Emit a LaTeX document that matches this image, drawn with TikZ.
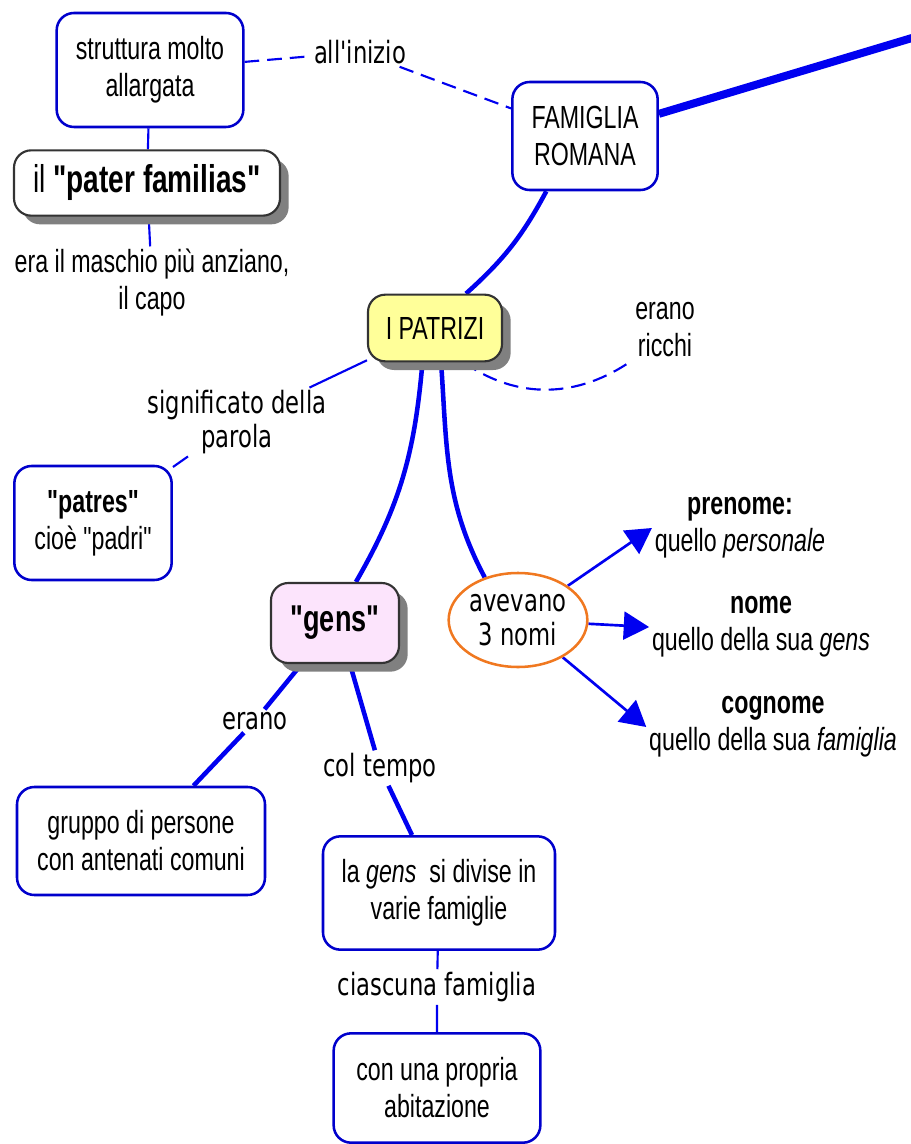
\documentclass[tikz,border=0pt]{standalone}
\usepackage{fontspec}
\setmainfont{Liberation Sans}[FakeStretch=0.725, Ligatures=TeXOff]
\newfontfamily\lblfont{DejaVu Sans}[FakeStretch=0.74, Ligatures=TeXOff]
\usetikzlibrary{shadows,arrows.meta,backgrounds,shapes.geometric}

\definecolor{boxblue}{HTML}{0000CC}
\definecolor{linkblue}{HTML}{0000F0}
\definecolor{patyellow}{HTML}{FFFF99}
\definecolor{genspink}{HTML}{FCE4FC}
\definecolor{ovalorange}{HTML}{F07820}

\begin{document}
\begin{tikzpicture}[x=0.75pt,y=0.75pt,
    concept/.style={draw=boxblue, line width=1.9pt, rounded corners=13pt, fill=white,
        align=center, inner sep=0pt, font=\fontsize{24}{27.75}\selectfont},
    keybox/.style={draw=black!80, line width=1.6pt, rounded corners=13pt,
        align=center, inner sep=0pt, font=\fontsize{24}{27.75}\selectfont,
        drop shadow={shadow xshift=6.5pt, shadow yshift=-6.5pt, fill=black!50, opacity=1}},
    lbl/.style={align=center, inner sep=2pt, font=\fontsize{24}{27.75}\selectfont},
    lbldv/.style={align=center, inner sep=2pt, font=\lblfont\fontsize{23}{25}\selectfont},
    link/.style={linkblue, line width=1.6pt},
    thicklink/.style={linkblue, line width=3.4pt},
    arr/.style={linkblue, line width=2pt, -{Triangle[length=19pt,width=21pt]}},
]
    \useasboundingbox (0,0) rectangle (910,-1144);

    % top: la famiglia romana
    \node[concept, minimum width=140pt, minimum height=85.5pt] (struttura) at (150,-70) {struttura molto\\allargata};
    \node[lbldv] (inizio) at (360,-52) {all'inizio};
    \node[concept, minimum width=109pt, minimum height=81pt] (famiglia) at (585,-136) {FAMIGLIA\\ROMANA};
    \coordinate (offright) at (912,-38);
    \node[keybox, fill=white, minimum width=199.5pt, minimum height=49pt,
        font=\fontsize{29}{30}\selectfont] (pater) at (147,-183) {il \textbf{"pater familias"}};
    \node[lbl] (maschio) at (152,-283) {era il maschio più anziano,\\il capo};

    % i patrizi
    \node[keybox, fill=patyellow, minimum width=100.5pt, minimum height=50pt] (patrizi) at (435,-328) {I PATRIZI};
    \node[lbl] (ricchi) at (665,-330) {erano\\ricchi};
    \node[lbldv] (signif) at (237,-422) {significato della\\parola};
    \node[concept, minimum width=118pt, minimum height=85.5pt] (patres) at (93,-523)
        {\textbf{"patres"}\\cioè "padri"};

    % i tre nomi
    \node[ellipse, draw=ovalorange, line width=1.9pt, fill=white, minimum width=104pt,
        minimum height=70.5pt, inner sep=0pt, align=center,
        font=\lblfont\fontsize{23}{25}\selectfont] (aveva) at (518,-620) {avevano\\3 nomi};
    \node[lbl] (prenome) at (740,-528) {\textbf{prenome:}\\quello \textit{personale}};
    \node[lbl] (nome) at (761,-627) {\textbf{nome}\\quello della sua \textit{gens}};
    \node[lbl] (cognome) at (773,-727) {\textbf{cognome}\\quello della sua \textit{famiglia}};

    % la gens
    \node[keybox, fill=genspink, minimum width=96pt, minimum height=60pt,
        font=\fontsize{28}{30}\selectfont\bfseries] (gens) at (335,-623) {"gens"};
    \node[lbldv] (eranob) at (255,-721) {erano};
    \node[concept, minimum width=186pt, minimum height=81pt] (gruppo) at (141,-841) {gruppo di persone\\con antenati comuni};
    \node[lbldv] (coltempo) at (380,-768) {col tempo};
    \node[concept, minimum width=174pt, minimum height=85pt] (lagens) at (439,-893) {la \textit{gens}\ \ si divise in\\varie famiglie};
    \node[lbldv] (ciascuna) at (437,-987) {ciascuna famiglia};
    \node[concept, minimum width=155pt, minimum height=82pt] (abit) at (437,-1088) {con una propria\\abitazione};

    % connectors
    \begin{scope}[on background layer]
        \draw[link, dashed, dash pattern=on 11pt off 6pt] (struttura) -- (inizio) -- (famiglia);
        \draw[linkblue, line width=6pt] (famiglia) -- (offright);
        \draw[link] (struttura) -- (pater);
        \draw[link] (pater) -- (maschio);
        \draw[thicklink] (famiglia.235) to[bend left=10] (patrizi.48);
        \draw[link, dashed, dash pattern=on 11pt off 6pt] (patrizi.-50) to[out=-35,in=215] (ricchi.south west);
        \draw[link] (patrizi) -- (signif) -- (patres);
        \draw[thicklink] (patrizi.250) to[out=-95,in=60] (gens.63);
        \draw[thicklink] (patrizi.-80) to[out=-86,in=118] (aveva.128);
        \draw[arr] (aveva) -- (prenome.west);
        \draw[arr] (aveva) -- (nome.west);
        \draw[arr] (aveva) -- (cognome.west);
        \draw[thicklink] (gens) -- (eranob) -- (gruppo);
        \draw[thicklink] (gens.-70) -- (coltempo) -- (lagens.115);
        \draw[link] (lagens) -- (ciascuna) -- (abit);
    \end{scope}
\end{tikzpicture}
\end{document}
